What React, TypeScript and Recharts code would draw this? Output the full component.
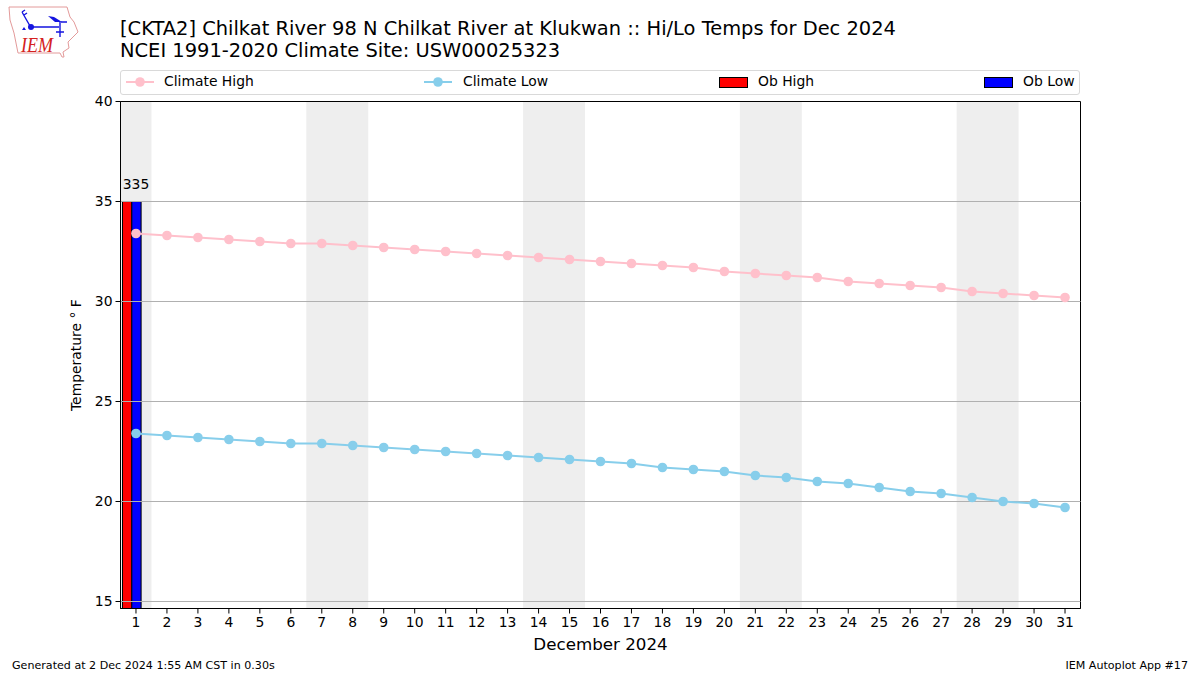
import {
  ComposedChart,
  Bar,
  Line,
  XAxis,
  YAxis,
  ReferenceArea,
  ReferenceLine,
  ReferenceDot,
} from 'recharts'

const days = [
  1, 2, 3, 4, 5, 6, 7, 8, 9, 10, 11, 12, 13, 14, 15, 16, 17, 18, 19, 20, 21, 22, 23, 24, 25, 26, 27, 28, 29, 30, 31,
]
const climateHigh = [
  33.4, 33.3, 33.2, 33.1, 33.0, 32.9, 32.9, 32.8, 32.7, 32.6, 32.5, 32.4, 32.3, 32.2, 32.1, 32.0, 31.9, 31.8, 31.7,
  31.5, 31.4, 31.3, 31.2, 31.0, 30.9, 30.8, 30.7, 30.5, 30.4, 30.3, 30.2,
]
const climateLow = [
  23.4, 23.3, 23.2, 23.1, 23.0, 22.9, 22.9, 22.8, 22.7, 22.6, 22.5, 22.4, 22.3, 22.2, 22.1, 22.0, 21.9, 21.7, 21.6,
  21.5, 21.3, 21.2, 21.0, 20.9, 20.7, 20.5, 20.4, 20.2, 20.0, 19.9, 19.7,
]
const obHigh = [35]
const obLow = [35]
const weekends: [number, number][] = [
  [0.5, 1.5],
  [6.5, 8.5],
  [13.5, 15.5],
  [20.5, 22.5],
  [27.5, 29.5],
]
const yTicks = [15, 20, 25, 30, 35, 40]

const FONT = '"DejaVu Sans", sans-serif'

const rows = days.map((d, i) => ({
  day: d,
  climateHigh: climateHigh[i],
  climateLow: climateLow[i],
  obHigh: obHigh[i],
  obLow: obLow[i],
}))

// bars sit a little left of the tick, like the original
function ShiftedBar(props: any) {
  const { x, y, width, height, fill } = props
  if (!height) return null
  return <rect x={x - 4} y={y} width={width} height={height} fill={fill} stroke="#000" strokeWidth={1} />
}

function LineKey({ color }: { color: string }) {
  return (
    <svg width={28} height={10} style={{ display: 'block' }}>
      <line x1={0} x2={28} y1={5} y2={5} stroke={color} strokeWidth={2} />
      <circle cx={14} cy={5} r={4.8} fill={color} />
    </svg>
  )
}

function BarKey({ color }: { color: string }) {
  return <div style={{ width: 27, height: 9, background: color, border: '1px solid #000' }} />
}

function LegendBox() {
  const item = (left: number, key: any, label: string, textLeft: number) => (
    <>
      <div style={{ position: 'absolute', left, top: 6 }}>{key}</div>
      <div style={{ position: 'absolute', left: textLeft, top: 2, fontSize: 13.9, lineHeight: '17px' }}>{label}</div>
    </>
  )
  return (
    <div
      style={{
        position: 'absolute',
        left: 120,
        top: 70,
        width: 958,
        height: 23,
        border: '1px solid #d9d9d9',
        borderRadius: 3,
        background: '#fff',
        zIndex: 2,
      }}
    >
      {item(5, <LineKey color="pink" />, 'Climate High', 43)}
      {item(303, <LineKey color="skyblue" />, 'Climate Low', 342)}
      {item(598, <BarKey color="red" />, 'Ob High', 637)}
      {item(863, <BarKey color="blue" />, 'Ob Low', 902)}
    </div>
  )
}

function Logo() {
  return (
    <svg width={85} height={62} style={{ position: 'absolute', left: 0, top: 0 }}>
      <path
        d="M9 7 L67 7 L70 17 L74 22 L78 32 L68 42 L69 48 L63 52 L64 57 L62 57 L60 53 L18 53 L14 33 L10 20 Z"
        fill="none"
        stroke="#e39a9a"
        strokeWidth={1}
      />
      <path
        d="M31 27 L59 27 M60 22 L60 37 M22 12 L30 26 M22 12 L25 10 M24 15 L27 13 M56 32 L64 32 M61 22 L67 22"
        fill="none"
        stroke="#1515e0"
        strokeWidth={1.4}
      />
      <path d="M48 16 L54 17 L62 22 L55 22 Z" fill="#1515e0" />
      <path d="M22 30 L24 27 L26 30 Z" fill="#1515e0" />
      <circle cx={31} cy={27} r={3} fill="#1515e0" />
      <text
        x={21}
        y={52}
        fontFamily='"Liberation Serif", serif'
        fontStyle="italic"
        fontSize={21}
        textLength={32}
        lengthAdjust="spacingAndGlyphs"
        fill="#d42020"
      >
        IEM
      </text>
    </svg>
  )
}

export default function App() {
  return (
    <div style={{ position: 'absolute', left: 0, top: 0, width: 1200, height: 675, fontFamily: FONT, color: '#000', background: '#fff' }}>
      <Logo />
      <div style={{ position: 'absolute', left: 120, top: 18, fontSize: 19.45, lineHeight: '22px', whiteSpace: 'nowrap' }}>
        [CKTA2] Chilkat River 98 N Chilkat River at Klukwan :: Hi/Lo Temps for Dec 2024
        <br />
        NCEI 1991-2020 Climate Site: USW00025323
      </div>
      <LegendBox />
      <ComposedChart
        width={1200}
        height={675}
        data={rows}
        margin={{ top: 101.5, right: 119.5, bottom: 0, left: 60.5 }}
        barGap={0}
        style={{ position: 'absolute', left: 0, top: 0 }}
      >
        <XAxis
          type="number"
          dataKey="day"
          domain={[0.5, 31.5]}
          ticks={days}
          interval={0}
          height={66.5}
          allowDataOverflow
          stroke="#000"
          tickSize={5}
          tick={{ fill: '#000', fontSize: 13.9, fontFamily: FONT }}
          tickMargin={4}
          label={{ value: 'December 2024', position: 'insideTop', offset: 30, fill: '#000', fontSize: 16.7, fontFamily: FONT }}
        />
        <YAxis
          type="number"
          domain={[14.65, 40]}
          ticks={yTicks}
          interval={0}
          width={60}
          allowDataOverflow
          stroke="#000"
          tickSize={5}
          tick={{ fill: '#000', fontSize: 13.9, fontFamily: FONT }}
          tickMargin={3}
          label={{ value: 'Temperature \u00B0 F', angle: -90, position: 'insideLeft', offset: 16, dy: 56, fill: '#000', fontSize: 13.9, fontFamily: FONT }}
        />
        {weekends.map(([a, b]) => (
          <ReferenceArea key={a} x1={a} x2={b} fill="#eeeeee" fillOpacity={1} stroke="none" ifOverflow="visible" />
        ))}
        <Bar dataKey="obHigh" fill="red" barSize={9.3} isAnimationActive={false} shape={<ShiftedBar />} />
        <Bar dataKey="obLow" fill="blue" barSize={9.3} isAnimationActive={false} shape={<ShiftedBar />} />
        {yTicks.slice(0, -1).map((t) => (
          <ReferenceLine key={t} y={t} stroke="#b0b0b0" strokeWidth={1} />
        ))}
        <ReferenceDot
          x={1}
          y={35}
          r={0}
          stroke="none"
          label={{ value: '335', position: 'top', offset: 13, fill: '#000', fontSize: 13.9, fontFamily: FONT }}
        />
        <Line dataKey="climateHigh" stroke="pink" strokeWidth={2} dot={{ r: 4.8, fill: 'pink', stroke: 'pink', strokeWidth: 0 }} isAnimationActive={false} />
        <Line dataKey="climateLow" stroke="skyblue" strokeWidth={2} dot={{ r: 4.8, fill: 'skyblue', stroke: 'skyblue', strokeWidth: 0 }} isAnimationActive={false} />
        <ReferenceArea x1={0.5} x2={31.5} y1={14.65} y2={40} fill="none" stroke="#000" strokeWidth={1} ifOverflow="visible" />
      </ComposedChart>
      <div style={{ position: 'absolute', left: 12, top: 659, fontSize: 11.1, lineHeight: '14px' }}>
        Generated at 2 Dec 2024 1:55 AM CST in 0.30s
      </div>
      <div style={{ position: 'absolute', right: 12, top: 659, fontSize: 11.1, lineHeight: '14px' }}>IEM Autoplot App #17</div>
    </div>
  )
}
